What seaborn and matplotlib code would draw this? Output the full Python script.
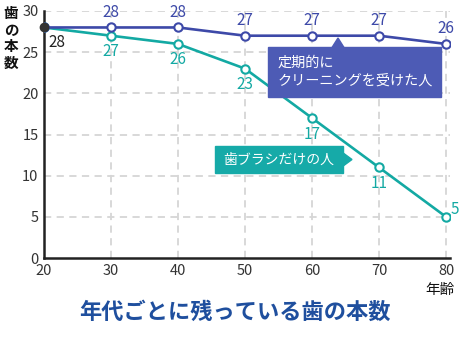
import matplotlib
matplotlib.use("Agg")
import matplotlib.pyplot as plt
import seaborn as sns
import pandas as pd
from matplotlib.patches import Rectangle, Polygon

# Data
ages = [20, 30, 40, 50, 60, 70, 80]
cleaning = [28, 28, 28, 27, 27, 27, 26]       # 定期的にクリーニングを受けた人
brush_only = [28, 27, 26, 23, 17, 11, 5]      # 歯ブラシだけの人
x_ticks = [20, 30, 40, 50, 60, 70, 80]
y_ticks = [0, 5, 10, 15, 20, 25, 30]

BLUE = "#3d49a8"
BLUE_BOX = "#4d5bb5"
TEAL = "#13a9a3"
TEAL_BOX = "#16aaa8"
TITLE_BLUE = "#1f4f9e"
GRID = "#d6d6d6"
TXT = "#333333"

sns.set_theme(style="white")
plt.rcParams["font.family"] = ["Noto Sans CJK JP", "DejaVu Sans"]

W, H = 470, 342
fig = plt.figure(figsize=(W / 100, H / 100), dpi=100)


def fx(px):
    return px / W


def fy(py):
    return 1 - py / H


ax = fig.add_axes([fx(44), fy(258), (446 - 44) / W * 60.6 / 60, (258 - 11) / H])

df = pd.DataFrame({
    "age": ages * 2,
    "teeth": cleaning + brush_only,
    "group": ["cleaning"] * len(ages) + ["brush"] * len(ages),
})

ax.set_xlim(20, 80.6)
ax.set_ylim(0, 30)

# dashed grid
for xv in x_ticks[1:]:
    ax.axvline(xv, color=GRID, lw=1.3, ls=(0, (4, 3)), zorder=0)
for yv in y_ticks[1:]:
    ax.axhline(yv, color=GRID, lw=1.3, ls=(0, (4, 3)), zorder=0)

sns.lineplot(data=df[df.group == "brush"], x="age", y="teeth", ax=ax,
             color=TEAL, lw=1.9, marker="o", markersize=6,
             markerfacecolor="white", markeredgecolor=TEAL, markeredgewidth=1.5,
             zorder=3)
sns.lineplot(data=df[df.group == "cleaning"], x="age", y="teeth", ax=ax,
             color=BLUE, lw=1.9, marker="o", markersize=6,
             markerfacecolor="white", markeredgecolor=BLUE, markeredgewidth=1.5,
             zorder=4)

# common starting point
ax.plot([ages[0]], [cleaning[0]], "o", color=TXT, markersize=6, zorder=6,
        clip_on=False)

# value labels
lbl_fs = 11
ax.annotate(f"{cleaning[0]}", (ages[0], cleaning[0]), xytext=(13, -15),
            textcoords="offset pixels", ha="center", va="center",
            fontsize=lbl_fs, color="#222222")
for a, v in zip(ages[1:], cleaning[1:]):
    ax.annotate(f"{v}", (a, v), xytext=(0, 15), textcoords="offset pixels",
                ha="center", va="center", fontsize=lbl_fs, color=BLUE)
for a, v in zip(ages[1:-1], brush_only[1:-1]):
    ax.annotate(f"{v}", (a, v), xytext=(0, -16), textcoords="offset pixels",
                ha="center", va="center", fontsize=lbl_fs, color=TEAL)
ax.annotate(f"{brush_only[-1]}", (ages[-1], brush_only[-1]), xytext=(5, 7),
            textcoords="offset pixels", ha="left", va="center",
            fontsize=lbl_fs, color=TEAL)

# axes styling
ax.set_xticks(x_ticks)
ax.set_yticks(y_ticks)
ax.tick_params(axis="both", length=0, labelsize=10.5, colors=TXT, pad=4)
ax.set_xlabel("")
ax.set_ylabel("")
for s in ["top", "right"]:
    ax.spines[s].set_visible(False)
for s in ["left", "bottom"]:
    ax.spines[s].set_color("#222222")
    ax.spines[s].set_linewidth(1.8)
ax.set_facecolor("none")

# callout: cleaning group
fig.patches.append(Rectangle((fx(268), fy(97)), (441 - 268) / W, (97 - 47) / H,
                             transform=fig.transFigure, color=BLUE_BOX, zorder=5))
fig.patches.append(Polygon([(fx(332), fy(47.5)), (fx(338), fy(38)), (fx(344), fy(47.5))],
                           closed=True, transform=fig.transFigure, color=BLUE_BOX, zorder=5))
fig.text(fx(278), fy(72), "定期的に\nクリーニングを受けた人", ha="left", va="center",
         fontsize=10.2, color="white", linespacing=1.45, zorder=6)

# callout: brush-only group
fig.patches.append(Rectangle((fx(215), fy(173)), (343 - 215) / W, (173 - 146) / H,
                             transform=fig.transFigure, color=TEAL_BOX, zorder=5))
fig.patches.append(Polygon([(fx(342.5), fy(152.5)), (fx(352), fy(159.5)), (fx(342.5), fy(166.5))],
                           closed=True, transform=fig.transFigure, color=TEAL_BOX, zorder=5))
fig.text(fx(279), fy(159.5), "歯ブラシだけの人", ha="center", va="center",
         fontsize=10, color="white", zorder=6)

# axis titles
fig.text(fx(11), fy(38), "歯\nの\n本\n数", ha="center", va="center",
         fontsize=10.5, color="#111111", linespacing=1.05, fontweight="bold")
fig.text(fx(455), fy(290), "年齢", ha="right", va="center",
         fontsize=10.5, color="#111111")

# chart title
fig.text(fx(235), fy(312), "年代ごとに残っている歯の本数", ha="center", va="center",
         fontsize=16, color=TITLE_BLUE, fontweight="bold")

fig.savefig("out.png", dpi=100)
